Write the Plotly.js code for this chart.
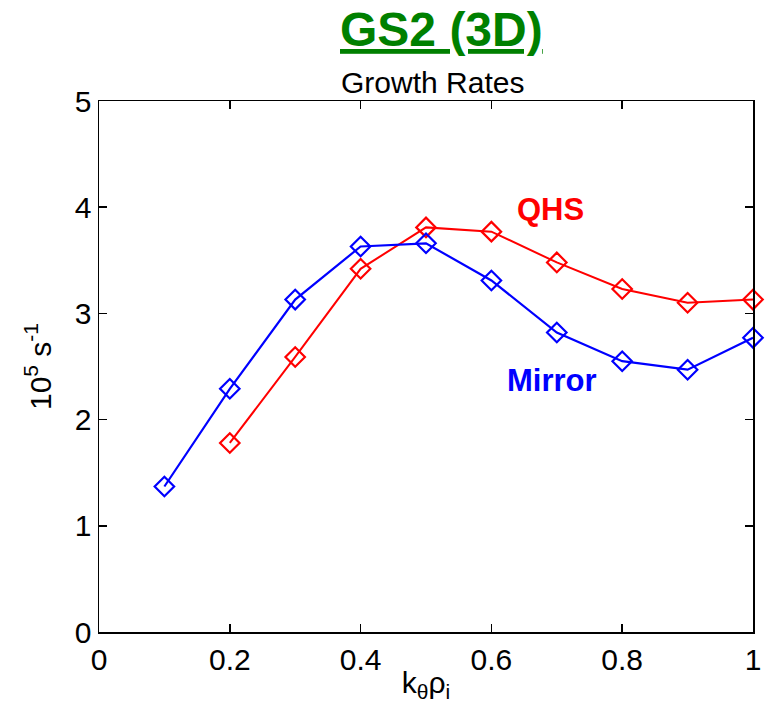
<!DOCTYPE html>
<html>
<head>
<meta charset="utf-8">
<script src="https://cdn.plot.ly/plotly-3.0.1.min.js"></script>
<style>
  html, body { margin: 0; padding: 0; background: #ffffff; }
  #chart { width: 768px; height: 703px; }
</style>
</head>
<body>
<div id="chart"></div>
<script>
// Growth rates versus k_theta rho_i for the two configurations
const kRhoMirror = [0.1, 0.2, 0.3, 0.4, 0.5, 0.6, 0.7, 0.8, 0.9, 1.0];
const gammaMirror = [1.37, 2.29, 3.13, 3.63, 3.66, 3.31, 2.82, 2.55, 2.47, 2.77];

const kRhoQHS = [0.2, 0.3, 0.4, 0.5, 0.6, 0.7, 0.8, 0.9, 1.0];
const gammaQHS = [1.78, 2.59, 3.42, 3.81, 3.77, 3.48, 3.23, 3.10, 3.13];

const xTicks = [0, 0.2, 0.4, 0.6, 0.8, 1];
const xTickText = ['0', '0.2', '0.4', '0.6', '0.8', '1'];
const yTicks = [0, 1, 2, 3, 4, 5];

const markerStyle = (color) => ({
  symbol: 'diamond-open',
  size: 15,
  color: color,
  line: { color: color, width: 2.2 }
});

const traces = [
  {
    x: kRhoQHS, y: gammaQHS, name: 'QHS',
    type: 'scatter', mode: 'lines+markers',
    line: { color: '#ff0000', width: 2 },
    marker: markerStyle('#ff0000'),
    cliponaxis: false
  },
  {
    x: kRhoMirror, y: gammaMirror, name: 'Mirror',
    type: 'scatter', mode: 'lines+markers',
    line: { color: '#0000ff', width: 2.2 },
    marker: markerStyle('#0000ff'),
    cliponaxis: false
  }
];

const FONT = 'Liberation Sans, Arial, sans-serif';
const axisFont = { family: FONT, size: 30, color: '#000000' };

const layout = {
  width: 768,
  height: 703,
  margin: { l: 99, r: 15, t: 101, b: 71 },
  paper_bgcolor: '#ffffff',
  plot_bgcolor: '#ffffff',
  showlegend: false,
  xaxis: {
    range: [0, 1],
    tickvals: xTicks,
    ticktext: xTickText,
    ticks: 'inside',
    ticklen: 8,
    tickwidth: 1.5,
    tickcolor: '#000000',
    showline: true,
    linecolor: '#000000',
    linewidth: 1.5,
    mirror: 'ticks',
    showgrid: false,
    zeroline: false,
    tickfont: axisFont,
    ticklabelstandoff: 0,
    title: {
      text: 'k<sub>θ</sub>ρ<sub>i</sub>',
      font: axisFont,
      standoff: 0
    }
  },
  yaxis: {
    range: [0, 5],
    tickvals: yTicks,
    ticks: 'inside',
    ticklen: 8,
    tickwidth: 1.5,
    tickcolor: '#000000',
    showline: true,
    linecolor: '#000000',
    linewidth: 1.5,
    mirror: 'ticks',
    showgrid: false,
    zeroline: false,
    tickfont: axisFont,
    title: {
      text: '10<sup>5</sup> s<sup>-1</sup>',
      font: axisFont,
      standoff: 14
    }
  },
  annotations: [
    {
      text: '<b><u>GS2 (3D)</u></b>',
      xref: 'paper', yref: 'paper',
      x: 0.523, y: 1, yshift: 72,
      xanchor: 'center', yanchor: 'middle',
      showarrow: false,
      font: { family: FONT, size: 48, color: '#008000' }
    },
    {
      text: 'Growth Rates',
      xref: 'paper', yref: 'paper',
      x: 0.51, y: 1, yshift: 19,
      xanchor: 'center', yanchor: 'middle',
      showarrow: false,
      font: { family: FONT, size: 30, color: '#000000' }
    },
    {
      text: '<b>QHS</b>',
      xref: 'x', yref: 'y',
      x: 0.691, y: 3.98,
      xanchor: 'center', yanchor: 'middle',
      showarrow: false,
      font: { family: FONT, size: 31, color: '#ff0000' }
    },
    {
      text: '<b>Mirror</b>',
      xref: 'x', yref: 'y',
      x: 0.692, y: 2.37,
      xanchor: 'center', yanchor: 'middle',
      showarrow: false,
      font: { family: FONT, size: 31, color: '#0000ff' }
    }
  ]
};

Plotly.newPlot('chart', traces, layout, { displayModeBar: false, staticPlot: true });
</script>
</body>
</html>
